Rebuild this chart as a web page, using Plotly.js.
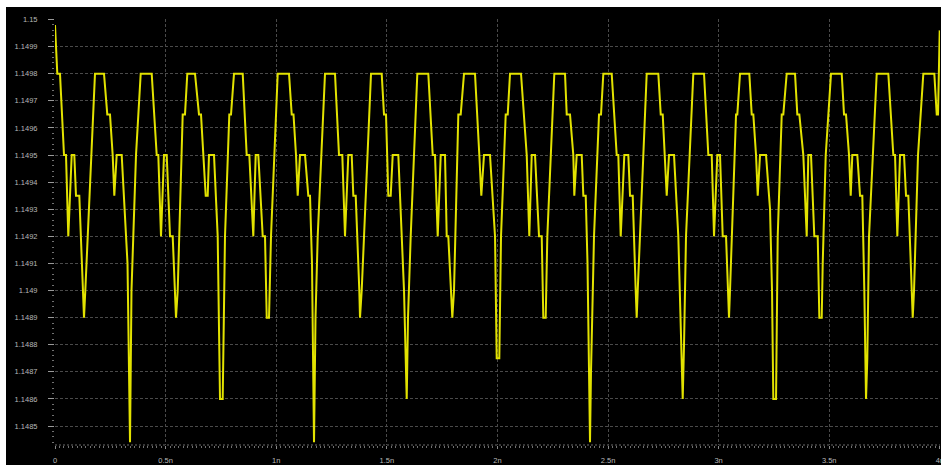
<!DOCTYPE html>
<html>
<head>
<meta charset="utf-8">
<script src="https://cdn.plot.ly/plotly-3.0.1.min.js"></script>
<style>
  html, body { margin: 0; padding: 0; background: #ffffff; width: 941px; height: 470px; overflow: hidden; }
  #chart { position: absolute; left: 6px; top: 7px; width: 935px; height: 458px; background: #000; }
</style>
</head>
<body>
<div id="chart"></div>
<script>
// time in ns (one line per period)
const timeNs = [
  0,0.0104,0.0226,0.0407,0.0497,0.0601,0.0755,0.0873,0.0949,0.1099,0.1311,0.1370,0.1808,
  0.2215,0.2364,0.2486,0.2608,0.2681,0.2789,0.3015,0.3278,0.3391,0.3458,0.3662,0.3874,
  0.4372,0.4598,0.4670,0.4792,0.4928,0.5050,0.5199,0.5321,0.5470,0.5547,0.5773,0.5877,0.5981,
  0.6329,0.6510,0.6600,0.6813,0.6903,0.6962,0.7188,0.7355,0.7459,0.7581,0.7685,0.7880,0.7957,0.8092,
  0.8486,0.8666,0.8784,0.8965,0.9073,0.9191,0.9390,0.9494,0.9571,0.9675,0.9765,1.0068,
  1.0579,1.0701,1.0782,1.0895,1.0972,1.1076,1.1302,1.1451,1.1528,1.1618,1.1709,1.1777,1.1876,1.2206,
  1.2658,1.2839,1.2988,1.3110,1.3260,1.3413,1.3486,1.3594,1.3757,1.3788,1.3865,1.4286,
  1.4769,1.4873,1.4964,1.5068,1.5176,1.5267,1.5520,1.5778,1.5900,1.5958,1.6080,1.6379,
  1.6876,1.7075,1.7179,1.7301,1.7437,1.7631,1.7708,1.7780,1.7961,1.8038,1.8233,1.8341,1.8490,
  1.8987,1.9182,1.9272,1.9394,1.9665,1.9892,1.9968,2.0086,2.0163,2.0375,2.0466,2.0570,
  2.1067,2.1325,2.1442,2.1551,2.1700,2.1881,2.2003,2.2075,2.2183,2.2256,2.2572,
  2.3056,2.3133,2.3282,2.3431,2.3476,2.3585,2.3811,2.3884,2.3992,2.4073,2.4186,2.4231,2.4367,2.4593,2.4684,2.4788,
  2.5167,2.5393,2.5465,2.5574,2.5737,2.5918,2.5995,2.6117,2.6252,2.6297,2.6343,2.6749,
  2.7274,2.7383,2.7473,2.7577,2.7654,2.7758,2.7984,2.8178,2.8255,2.8377,2.8436,2.8526,2.8856,
  2.9340,2.9535,2.9688,2.9792,2.9941,3.0063,3.0185,3.0335,3.0470,3.0515,3.0787,3.0845,3.0967,
  3.1388,3.1496,3.1569,3.1691,3.1768,3.1872,3.2143,3.2324,3.2414,3.2473,3.2595,3.2672,3.2853,3.2925,3.3078,
  3.3454,3.3558,3.3649,3.3829,3.3983,3.4055,3.4177,3.4326,3.4480,3.4553,3.4661,3.4706,3.4842,3.5081,
  3.5565,3.5669,3.5759,3.5895,3.5972,3.6044,3.6270,3.6392,3.6496,3.6587,3.6664,3.6722,3.6799,3.7147,
  3.7672,3.7898,3.7975,3.8079,3.8201,3.8382,3.8472,3.8576,3.8711,3.8775,3.8834,3.9014,3.9254,3.9751,3.9860,3.9919,3.9995
];

// voltage in V (one line per period)
const voltage = [
  1.14998,1.1498,1.1498,1.1495,1.1495,1.1492,1.1495,1.1495,1.14935,1.14935,1.1489,1.149,1.1498,
  1.1498,1.14965,1.14965,1.1495,1.14935,1.1495,1.1495,1.1491,1.14844,1.149,1.1495,1.1498,
  1.1498,1.1495,1.1495,1.1492,1.1495,1.1495,1.1492,1.1492,1.1489,1.149,1.14965,1.14965,1.1498,
  1.1498,1.14965,1.14965,1.14935,1.14935,1.1495,1.1495,1.1492,1.1486,1.1486,1.1492,1.14965,1.14965,1.1498,
  1.1498,1.1495,1.1495,1.1492,1.1495,1.1495,1.1492,1.1492,1.1489,1.1489,1.1492,1.1498,
  1.1498,1.14965,1.14965,1.1495,1.14935,1.1495,1.1495,1.14935,1.14935,1.1491,1.14844,1.1489,1.1492,1.1498,
  1.1498,1.1495,1.1495,1.1492,1.1495,1.1495,1.14935,1.14935,1.149,1.1489,1.149,1.1498,
  1.1498,1.14965,1.14965,1.14935,1.14935,1.1495,1.1495,1.149,1.1486,1.1489,1.1492,1.1498,
  1.1498,1.1495,1.1495,1.1492,1.1495,1.1495,1.1492,1.1492,1.1489,1.149,1.14965,1.14965,1.1498,
  1.1498,1.1495,1.14935,1.1495,1.1495,1.1492,1.14875,1.14875,1.1492,1.14965,1.14965,1.1498,
  1.1498,1.1495,1.1492,1.1495,1.1495,1.1492,1.1492,1.1489,1.1489,1.1492,1.1498,
  1.1498,1.14965,1.14965,1.1495,1.14935,1.1495,1.1495,1.14935,1.14935,1.1491,1.14844,1.1487,1.1492,1.14965,1.14965,1.1498,
  1.1498,1.1495,1.1495,1.1492,1.1495,1.1495,1.14935,1.14935,1.149,1.1489,1.149,1.1498,
  1.1498,1.14965,1.14965,1.1495,1.14935,1.1495,1.1495,1.1492,1.149,1.1486,1.1488,1.1492,1.1498,
  1.1498,1.1495,1.1495,1.1492,1.1495,1.1495,1.1492,1.1492,1.1489,1.149,1.14965,1.14965,1.1498,
  1.1498,1.14965,1.14965,1.1495,1.14935,1.1495,1.1495,1.1493,1.149,1.1486,1.1486,1.1492,1.14965,1.14965,1.1498,
  1.1498,1.14965,1.14965,1.1495,1.1492,1.1495,1.1495,1.1492,1.1492,1.1489,1.1489,1.1491,1.1495,1.1498,
  1.1498,1.14965,1.14965,1.1495,1.14935,1.1495,1.1495,1.14935,1.14935,1.149,1.1486,1.14875,1.1492,1.1498,
  1.1498,1.1495,1.1495,1.1492,1.1495,1.1495,1.14935,1.14935,1.149,1.1489,1.149,1.1495,1.1498,1.1498,1.14965,1.14965,1.14996
];

const xTickVals = [0, 0.5, 1, 1.5, 2, 2.5, 3, 3.5, 4];
const xTickText = ["0", "0.5n", "1n", "1.5n", "2n", "2.5n", "3n", "3.5n", "4n"];
const yTickVals = [1.1485, 1.1486, 1.1487, 1.1488, 1.1489, 1.149, 1.1491, 1.1492, 1.1493, 1.1494, 1.1495, 1.1496, 1.1497, 1.1498, 1.1499, 1.15];
const yTickText = ["1.1485", "1.1486", "1.1487", "1.1488", "1.1489", "1.149", "1.1491", "1.1492", "1.1493", "1.1494", "1.1495", "1.1496", "1.1497", "1.1498", "1.1499", "1.15"];

if (timeNs.length !== voltage.length) console.error("length mismatch", timeNs.length, voltage.length);

const tickFont = { family: "Liberation Sans, Arial, sans-serif", size: 7.5, color: "#b8b8b8" };
const gridColor = "#4a4a4a";

const trace = {
  type: "scatter",
  mode: "lines",
  x: timeNs,
  y: voltage,
  line: { color: "#e2e200", width: 2 },
  hoverinfo: "skip"
};

const layout = {
  width: 935,
  height: 458,
  paper_bgcolor: "#000000",
  plot_bgcolor: "#000000",
  showlegend: false,
  margin: { l: 49, r: 1, t: 12, b: 20, pad: 0 },
  xaxis: {
    range: [0, 4.0008],
    tickmode: "array",
    tickvals: xTickVals,
    ticktext: xTickText,
    tickfont: tickFont,
    ticks: "outside",
    ticklen: 3,
    tickcolor: "#888",
    ticklabelstandoff: 5,
    ticklabeloverflow: "allow",
    showgrid: true,
    gridcolor: gridColor,
    griddash: "3px,2px",
    gridwidth: 1,
    zeroline: false,
    showline: false,
    automargin: false,
    minor: { dtick: 0.02, tick0: 0, ticks: "outside", ticklen: 2, tickcolor: "#707070", showgrid: false }
  },
  yaxis: {
    range: [1.14843, 1.150002],
    tickmode: "array",
    tickvals: yTickVals,
    ticktext: yTickText,
    tickfont: tickFont,
    ticks: "outside",
    ticklen: 6,
    tickcolor: "#999",
    ticklabelstandoff: 9,
    showgrid: true,
    gridcolor: gridColor,
    griddash: "3px,2px",
    gridwidth: 1,
    zeroline: false,
    showline: false,
    automargin: false,
    minor: { dtick: 0.00002, tick0: 1.1485, ticks: "outside", ticklen: 2, tickcolor: "#707070", showgrid: false }
  },
  shapes: [
    { type: "line", xref: "paper", yref: "paper", x0: 0, x1: 1, y0: 0, y1: 0,
      line: { color: "#6a6a6a", width: 1, dash: "2px,2px" }, layer: "below" }
  ]
};

Plotly.newPlot("chart", [trace], layout, { staticPlot: true, displayModeBar: false });
</script>
</body>
</html>
